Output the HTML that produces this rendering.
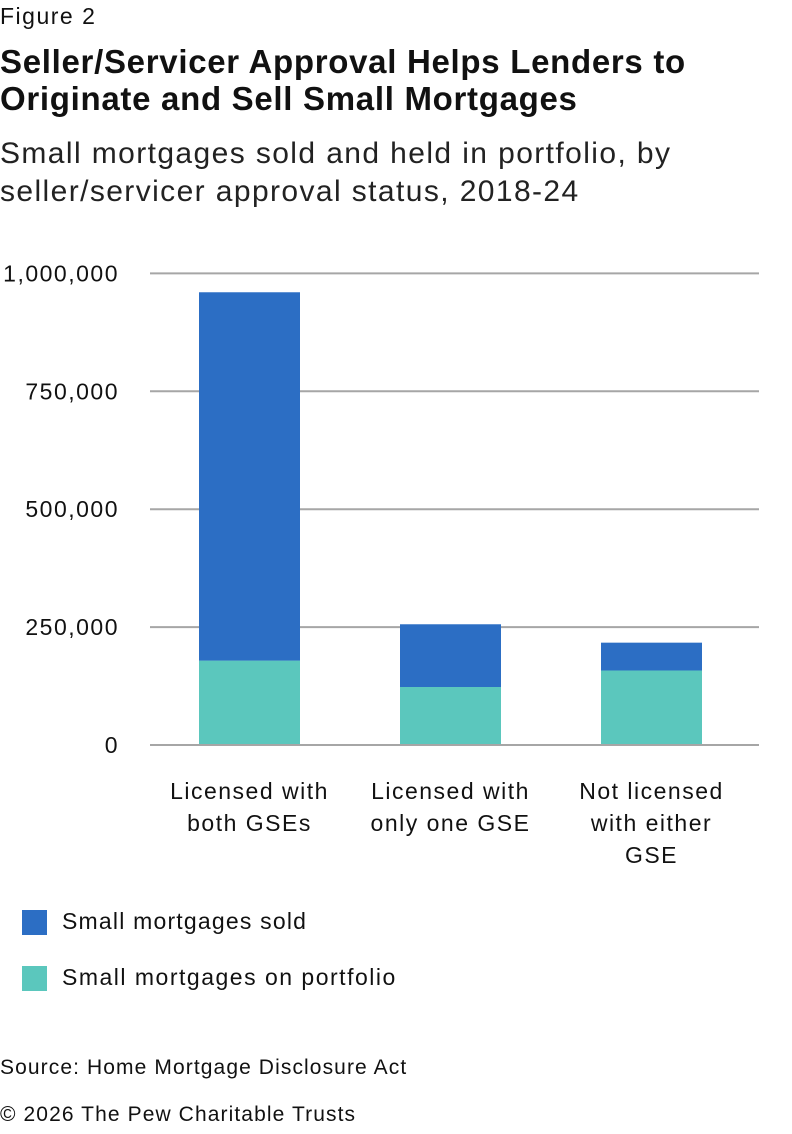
<!DOCTYPE html>
<html><head><meta charset="utf-8"><style>
body{margin:0;width:792px;height:1134px;background:#fff;font-family:"Liberation Sans",sans-serif;color:#111;position:relative;overflow:hidden}
.t{position:absolute;left:0;white-space:nowrap}
</style></head><body>
<div class="t" style="top:3px;font-size:23px;letter-spacing:1.5px">Figure 2</div>
<div class="t" style="top:43px;font-size:33px;font-weight:bold;line-height:37px;letter-spacing:0.7px">Seller/Servicer Approval Helps Lenders to<br>Originate and Sell Small Mortgages</div>
<div class="t" style="top:135px;font-size:30px;line-height:38px;color:#222;letter-spacing:1.4px">Small mortgages sold and held in portfolio, by<br>seller/servicer approval status, 2018-24</div>
<svg id="chart" style="position:absolute;left:0;top:0" width="792" height="900"></svg>
<div>
<div style="position:absolute;left:22px;top:910px;width:25px;height:25px;background:#2c6ec4"></div>
<div class="t" style="left:62px;top:908px;font-size:23px;letter-spacing:1.2px">Small mortgages sold</div>
<div style="position:absolute;left:22px;top:966px;width:25px;height:25px;background:#5bc7bd"></div>
<div class="t" style="left:62px;top:964px;font-size:23px;letter-spacing:1.5px">Small mortgages on portfolio</div>
</div>
<div class="t" style="top:1056px;font-size:21px;letter-spacing:1.1px">Source: Home Mortgage Disclosure Act</div>
<div class="t" style="top:1103px;font-size:21px;letter-spacing:1.1px">© 2026 The Pew Charitable Trusts</div>
<script>
const categories=[["Licensed with","both GSEs"],["Licensed with","only one GSE"],["Not licensed","with either","GSE"]];
const portfolio=[179000,123000,158000];
const sold=[781000,133000,59000];
const ticks=[0,250000,500000,750000,1000000];
const tickLabels=["0","250,000","500,000","750,000","1,000,000"];
const ns="http://www.w3.org/2000/svg",svg=document.getElementById("chart");
const y0=745,y1=273.4,max=1000000,gx0=150,gx1=759,px0=149,px1=752;
const y=v=>y0-(v/max)*(y0-y1);
const bw=(px1-px0)/categories.length, barW=101;
const cx=i=>px0+bw*(i+0.5);
function mk(t,a){const e=document.createElementNS(ns,t);for(const k in a)e.setAttribute(k,a[k]);svg.appendChild(e);return e;}
ticks.forEach((t,i)=>{
 const l=mk("line",{x1:gx0,x2:gx1,y1:y(t),y2:y(t),stroke:"#a6a6a6","stroke-width":2});
 
 
 const tx=mk("text",{x:119,y:y(t)+8,"text-anchor":"end","font-size":23,"letter-spacing":1.5,fill:"#111","font-family":"Liberation Sans, sans-serif"});
 tx.textContent=tickLabels[i];
 
 
});
categories.forEach((c,i)=>{
 const p=mk("rect",{x:cx(i)-barW/2,width:barW,y:y(portfolio[i]),height:y0-y(portfolio[i]),fill:"#5bc7bd"});
 
 
 const s=mk("rect",{x:cx(i)-barW/2,width:barW,y:y(portfolio[i]+sold[i]),height:y(portfolio[i])-y(portfolio[i]+sold[i]),fill:"#2c6ec4"});
 
 
 c.forEach((ln,j)=>{
  const t=mk("text",{x:cx(i),y:799+j*32,"text-anchor":"middle","font-size":23,"letter-spacing":1.5,fill:"#111","font-family":"Liberation Sans, sans-serif"});
  t.textContent=ln;
  
  
 });
});
const base=mk("line",{x1:gx0,x2:gx1,y1:y0,y2:y0,stroke:"#a6a6a6","stroke-width":2});


</script>
</body></html>
